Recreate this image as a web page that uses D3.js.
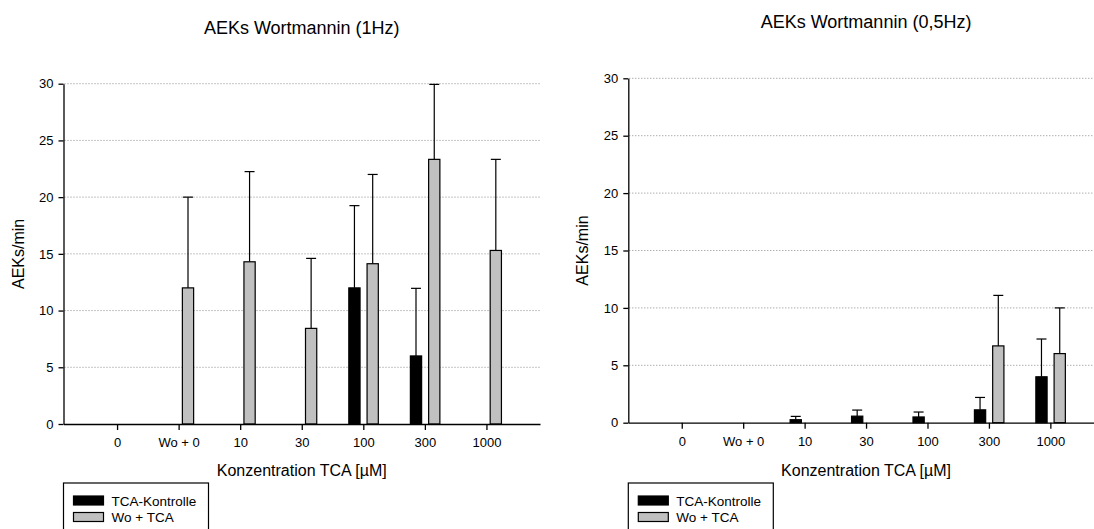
<!DOCTYPE html>
<html>
<head>
<meta charset="utf-8">
<script src="https://cdn.jsdelivr.net/npm/d3@7"></script>
<style>
  html, body { margin: 0; padding: 0; background: #fff; }
  svg { display: block; }
  text { font-family: "Liberation Sans", Arial, sans-serif; fill: #000; }
</style>
</head>
<body>
<svg id="chart" width="1094" height="529"></svg>
<script>
// ---------- data ----------
const categories = ["0", "Wo + 0", "10", "30", "100", "300", "1000"];
const seriesNames = ["TCA-Kontrolle", "Wo + TCA"];
const seriesColors = ["#000000", "#c0c0c0"];
const yTicks = [0, 5, 10, 15, 20, 25, 30];

// 1 Hz
const hz1Title = "AEKs Wortmannin (1Hz)";
const hz1Control    = [null, null, null, null, 12.0, 6.0, null];
const hz1ControlErr = [null, null, null, null, 7.25, 5.96, null];
const hz1Wo         = [null, 12.0, 14.3, 8.43, 14.13, 23.33, 15.3];
const hz1WoErr      = [null, 8.0, 7.95, 6.17, 7.87, 6.61, 8.03];

// 0,5 Hz
const hz05Title = "AEKs Wortmannin (0,5Hz)";
const hz05Control    = [null, null, 0.26, 0.57, 0.5, 1.12, 4.0];
const hz05ControlErr = [null, null, 0.29, 0.53, 0.43, 1.08, 3.29];
const hz05Wo         = [null, null, null, null, null, 6.69, 6.02];
const hz05WoErr      = [null, null, null, null, null, 4.4, 3.98];

const yLabel = "AEKs/min";
const xLabel = "Konzentration TCA [µM]";

// ---------- drawing ----------
const svg = d3.select("#chart");
svg.append("rect").attr("width", 1094).attr("height", 529).attr("fill", "#fff");

function drawChart(cfg) {
  const g = svg.append("g");
  const x = d3.scalePoint().domain(categories).range([cfg.left, cfg.right]).padding(0.87);
  const x1 = d3.scaleBand().domain(seriesNames).range([-14.5, 15]).paddingInner(0.3836).paddingOuter(0);
  const y = d3.scaleLinear().domain([0, 30]).range([cfg.bottom, cfg.top]);

  // gridlines
  g.append("g").selectAll("line")
    .data(yTicks.filter(d => d > 0))
    .join("line")
    .attr("x1", cfg.left + 1).attr("x2", cfg.right)
    .attr("y1", d => y(d)).attr("y2", d => y(d))
    .attr("stroke", "#8a8a8a").attr("stroke-width", 1)
    .attr("stroke-dasharray", "1,2");

  // title
  g.append("text")
    .attr("x", (cfg.left + cfg.right) / 2).attr("y", cfg.top - 50)
    .attr("text-anchor", "middle").style("font-size", "18px")
    .text(cfg.title);

  // bars + error bars
  const series = [cfg.control, cfg.wo];
  const errs = [cfg.controlErr, cfg.woErr];
  series.forEach((vals, si) => {
    const name = seriesNames[si];
    const data = categories.map((c, i) => ({ c, v: vals[i], e: errs[si][i] }))
      .filter(d => d.v !== null);
    const sg = g.append("g");
    // error bars (upper only)
    sg.selectAll("line.stem").data(data).join("line").attr("class", "stem")
      .attr("x1", d => x(d.c) + x1(name) + x1.bandwidth() / 2)
      .attr("x2", d => x(d.c) + x1(name) + x1.bandwidth() / 2)
      .attr("y1", d => y(d.v)).attr("y2", d => y(d.v + d.e))
      .attr("stroke", "#000").attr("stroke-width", 1.2);
    sg.selectAll("line.cap").data(data).join("line").attr("class", "cap")
      .attr("x1", d => x(d.c) + x1(name) + x1.bandwidth() / 2 - 5)
      .attr("x2", d => x(d.c) + x1(name) + x1.bandwidth() / 2 + 5)
      .attr("y1", d => y(d.v + d.e)).attr("y2", d => y(d.v + d.e))
      .attr("stroke", "#000").attr("stroke-width", 1.2);
    sg.selectAll("rect").data(data).join("rect")
      .attr("x", d => x(d.c) + x1(name))
      .attr("width", x1.bandwidth())
      .attr("y", d => y(d.v))
      .attr("height", d => y(0) - y(d.v))
      .attr("fill", seriesColors[si])
      .attr("stroke", "#000").attr("stroke-width", 1.2);
  });

  // y axis
  const ya = g.append("g").attr("transform", `translate(${cfg.left},0)`)
    .call(d3.axisLeft(y).tickValues(yTicks).tickSize(5).tickSizeOuter(0).tickPadding(5));
  ya.selectAll("path,line").attr("stroke", "#000").attr("stroke-width", 1.3);
  ya.selectAll("text").style("font-size", "13px").style("font-family", '"Liberation Sans", Arial, sans-serif').attr("fill", "#111");

  // x axis
  const xa = g.append("g").attr("transform", `translate(0,${cfg.bottom})`)
    .call(d3.axisBottom(x).tickSize(6).tickSizeOuter(0).tickPadding(8));
  xa.selectAll("path,line").attr("stroke", "#000").attr("stroke-width", 1.3);
  xa.selectAll("text").style("font-size", "13px").style("font-family", '"Liberation Sans", Arial, sans-serif').attr("fill", "#111");

  // axis titles
  g.append("text")
    .attr("x", (cfg.left + cfg.right) / 2).attr("y", 476)
    .attr("text-anchor", "middle").style("font-size", "16px")
    .text(xLabel);
  g.append("text")
    .attr("transform", `translate(${cfg.left - 40},${(cfg.top + cfg.bottom) / 2}) rotate(-90)`)
    .attr("text-anchor", "middle").style("font-size", "16px")
    .text(yLabel);

  // legend
  const lg = g.append("g").attr("transform", `translate(${cfg.left},483)`);
  lg.append("rect").attr("x", 0).attr("y", 0).attr("width", 145).attr("height", 60)
    .attr("fill", "#fff").attr("stroke", "#000").attr("stroke-width", 1.2);
  seriesNames.forEach((n, i) => {
    lg.append("rect").attr("x", 10).attr("y", 13 + i * 16.5).attr("width", 30).attr("height", 9)
      .attr("fill", seriesColors[i]).attr("stroke", "#000").attr("stroke-width", 1.2);
    lg.append("text").attr("x", 48).attr("y", 22.5 + i * 16.5)
      .style("font-size", "13.5px").text(n);
  });
}

drawChart({ title: hz1Title, left: 63.5, right: 540, top: 83.7, bottom: 424,
  control: hz1Control, controlErr: hz1ControlErr, wo: hz1Wo, woErr: hz1WoErr });
drawChart({ title: hz05Title, left: 628.3, right: 1103.8, top: 78.3, bottom: 422.7,
  control: hz05Control, controlErr: hz05ControlErr, wo: hz05Wo, woErr: hz05WoErr });
</script>
</body>
</html>
